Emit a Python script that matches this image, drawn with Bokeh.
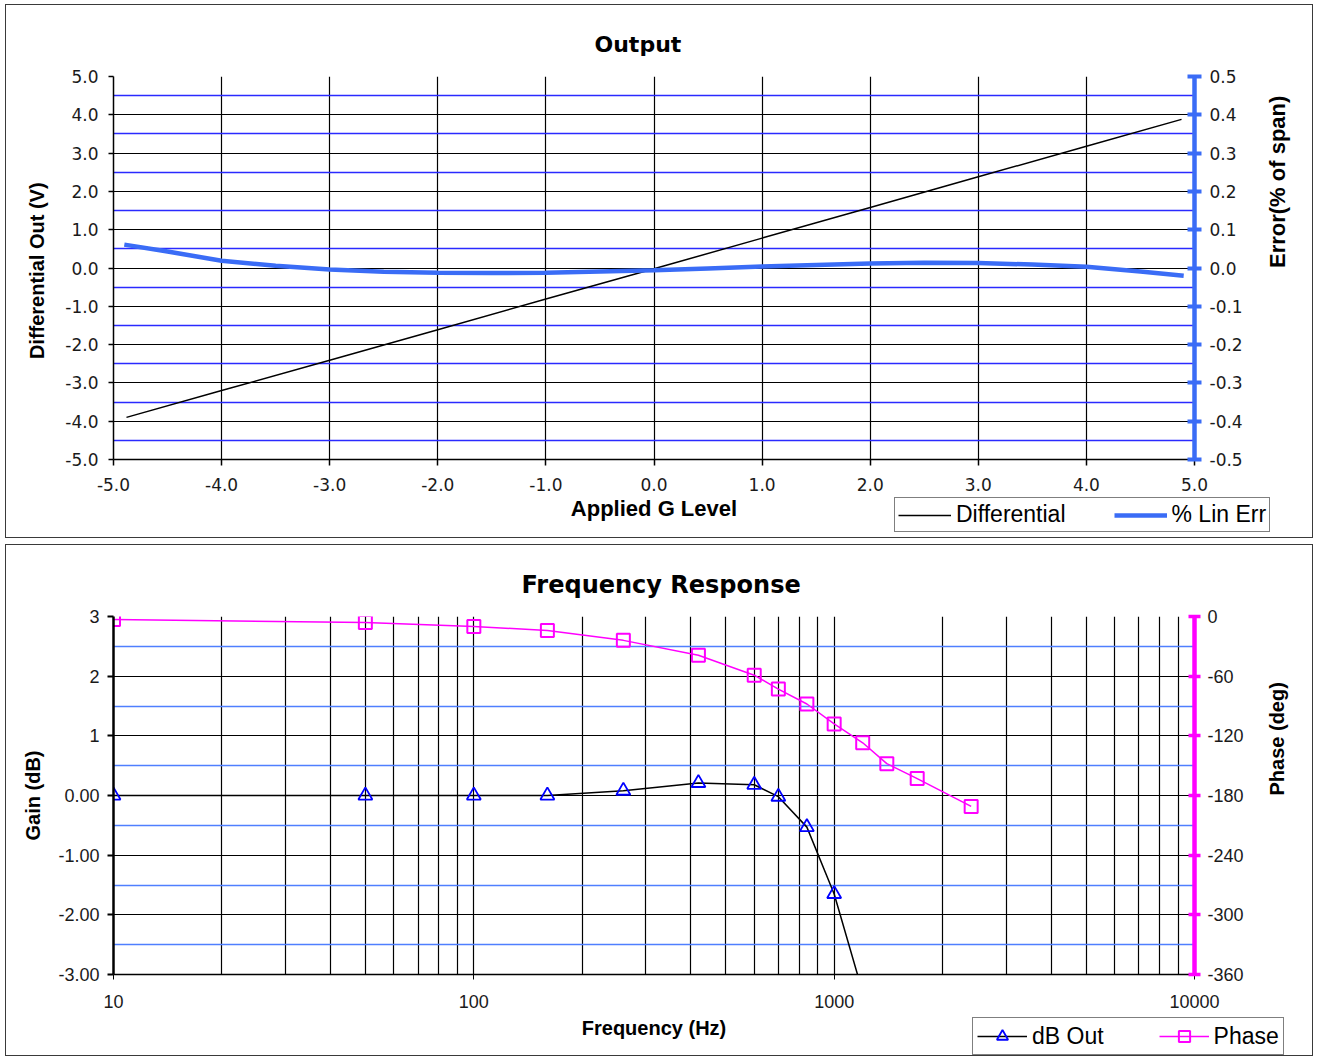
import math
from bokeh.plotting import figure
from bokeh.models import (Range1d, LinearAxis, FixedTicker, Legend, LegendItem,
                          PrintfTickFormatter)
from bokeh.layouts import column
from bokeh.embed import file_html
from bokeh.resources import INLINE

# ---------------- data: Output chart ----------------
g_level = [-4.88, -4.0, -3.0, -2.0, -1.0, 0.0, 1.0, 2.0, 3.0, 4.0, 4.88]
differential = [-3.90, -3.20, -2.41, -1.61, -0.81, -0.02, 0.78, 1.58, 2.38, 3.18, 3.88]
err_level = [-4.9, -4.5, -4.0, -3.5, -3.0, -2.5, -2.0, -1.5, -1.0, -0.5, 0.0,
             0.5, 1.0, 1.5, 2.0, 2.5, 3.0, 3.5, 4.0, 4.5, 4.9]
lin_err = [0.061, 0.043, 0.019, 0.006, -0.004, -0.010, -0.0125, -0.013, -0.0125, -0.009, -0.006,
           -0.001, 0.004, 0.008, 0.012, 0.014, 0.013, 0.009, 0.003, -0.009, -0.020]
g_ticks = [-5.0, -4.0, -3.0, -2.0, -1.0, 0.0, 1.0, 2.0, 3.0, 4.0, 5.0]
v_ticks = [-5.0, -4.0, -3.0, -2.0, -1.0, 0.0, 1.0, 2.0, 3.0, 4.0, 5.0]
v_minor = [-4.5, -3.5, -2.5, -1.5, -0.5, 0.5, 1.5, 2.5, 3.5, 4.5]
err_ticks = [-0.5, -0.4, -0.3, -0.2, -0.1, 0.0, 0.1, 0.2, 0.3, 0.4, 0.5]

# ---------------- data: Frequency Response chart ----------------
freq = [10, 50, 100, 160, 260, 420, 600, 700, 840, 1000, 1200, 1400, 1700, 2400]
db_out = [0.0, 0.0, 0.0, 0.0, 0.08, 0.21, 0.18, -0.02, -0.53, -1.65, -3.3, -5.4, -8.0, -13.0]
phase = [-3, -6, -10, -14, -24, -39, -59, -73, -88, -108, -127, -148, -163, -191]
freq_ticks = [10, 100, 1000, 10000]
freq_minor = [20, 30, 40, 50, 60, 70, 80, 90, 200, 300, 400, 500, 600, 700, 800, 900,
              2000, 3000, 4000, 5000, 6000, 7000, 8000, 9000]
gain_ticks = [-3, -2, -1, 0, 1, 2, 3]
gain_minor = [-2.5, -1.5, -0.5, 0.5, 1.5, 2.5]
gain_labels = {3: "3", 2: "2", 1: "1", 0: "0.00", -1: "-1.00", -2: "-2.00", -3: "-3.00"}
phase_ticks = [-360, -300, -240, -180, -120, -60, 0]

BLUE_GRID = "#2a2aff"
BLUE_ERR = "#3a6cf6"
BLUE_GRID2 = "#4f7fff"
MAGENTA = "#ff00ff"
TICK_FONT = "DejaVu Sans"
LAB_FONT = "Liberation Sans"


def style_axis(ax, font, size, tick_out, standoff):
    ax.major_label_text_font = font
    ax.major_label_text_font_size = size
    ax.major_label_text_color = "#1a1a1a"
    ax.major_tick_out = tick_out
    ax.major_tick_in = 0
    ax.major_label_standoff = standoff
    ax.minor_tick_line_color = None
    ax.axis_line_color = "black"
    ax.major_tick_line_color = "black"
    ax.axis_label_text_font = LAB_FONT
    ax.axis_label_text_font_style = "bold"
    ax.axis_label_text_color = "black"


def flip_right_label(ax):
    try:
        ax.axis_label_orientation = math.pi / 2
    except Exception:
        pass


def legend_figure(w, h, left, top):
    # small transparent canvas holding only a legend, laid over the chart;
    # its ranges keep the (re-used) series out of view, so only the legend shows
    f = figure(width=w, height=h, x_range=Range1d(-1000, -999), y_range=Range1d(-1000, -999),
               output_backend="svg", toolbar_location=None, min_border=0,
               x_axis_location=None, y_axis_location=None)
    f.outline_line_color = None
    f.background_fill_alpha = 0
    f.border_fill_alpha = 0
    f.grid.visible = False
    f.styles = {"position": "absolute", "left": f"{left}px", "top": f"{top}px",
                "z-index": "10"}
    return f


def style_legend(leg, pad):
    leg.label_text_font = LAB_FONT
    leg.label_text_font_size = "23px"
    leg.label_text_color = "black"
    leg.glyph_height = 20
    leg.label_standoff = 5
    leg.padding = pad
    leg.margin = 1
    leg.border_line_color = "black"
    leg.border_line_width = 1.5
    leg.background_fill_color = "white"
    leg.background_fill_alpha = 1.0


# ================= Output chart =================
p1 = figure(width=1308, height=534, x_range=Range1d(-5, 5), y_range=Range1d(-5, 5),
            output_backend="svg", toolbar_location=None,
            min_border_left=106, min_border_right=120, min_border_top=71, min_border_bottom=80)
p1.styles = {"border": "1px solid #3a3a3a"}
p1.outline_line_color = None
p1.title.text = "Output"
p1.title.text_font = "DejaVu Sans"
p1.title.text_font_style = "bold"
p1.title.text_font_size = "22px"
p1.title.text_color = "black"
p1.title.align = "left"
p1.title.offset = 481
p1.title.standoff = 39

xa = p1.xaxis[0]
xa.ticker = FixedTicker(ticks=g_ticks)
xa.formatter = PrintfTickFormatter(format="%.1f")
style_axis(xa, TICK_FONT, "17px", 6, 12)
xa.axis_line_width = 1.5
xa.major_tick_line_width = 1.5
xa.axis_label = "Applied G Level"
xa.axis_label_text_font_size = "22px"
xa.axis_label_standoff = 2

ya = p1.yaxis[0]
ya.ticker = FixedTicker(ticks=v_ticks, minor_ticks=v_minor)
ya.formatter = PrintfTickFormatter(format="%.1f")
style_axis(ya, TICK_FONT, "17px", 5, 10)
ya.axis_line_width = 1.5
ya.major_tick_line_width = 1.5
ya.axis_label = "Differential  Out (V)"
ya.axis_label_text_font_size = "20px"
ya.axis_label_standoff = 14

p1.xgrid.grid_line_color = "black"
p1.xgrid.grid_line_width = 1.2
p1.ygrid.grid_line_color = "black"
p1.ygrid.grid_line_width = 1.2
p1.ygrid.minor_grid_line_color = BLUE_GRID
p1.ygrid.minor_grid_line_width = 1.5

p1.extra_y_ranges = {"err": Range1d(-0.5, 0.5)}
ea = LinearAxis(y_range_name="err", ticker=FixedTicker(ticks=err_ticks),
                formatter=PrintfTickFormatter(format="%.1f"), axis_label="Error(% of span)")
style_axis(ea, TICK_FONT, "17px", 7, 8)
ea.major_tick_in = 7
ea.axis_line_color = BLUE_ERR
ea.axis_line_width = 4.5
ea.major_tick_line_color = BLUE_ERR
ea.major_tick_line_width = 4
ea.axis_label_text_font_size = "22px"
ea.axis_label_standoff = 32
flip_right_label(ea)
p1.add_layout(ea, "right")

p1.line(g_level, differential, line_color="black", line_width=1.5)
p1.line(err_level, lin_err, y_range_name="err", line_color=BLUE_ERR, line_width=4.5)

# legend of the Output chart (overlaid at the chart's lower right)
p3 = legend_figure(420, 42, 893, 496)
k_diff = p3.line(g_level, differential, line_color="black", line_width=1.5)
k_err = p3.line(err_level, lin_err, line_color=BLUE_ERR, line_width=4.5)
leg1 = Legend(items=[LegendItem(label="Differential", renderers=[k_diff]),
                     LegendItem(label="% Lin Err", renderers=[k_err])],
              location="top_left", orientation="horizontal")
style_legend(leg1, 3)
leg1.glyph_width = 53
leg1.spacing = 48
p3.add_layout(leg1)

# ================= Frequency Response chart =================
p2 = figure(width=1308, height=512, x_axis_type="log", x_range=Range1d(10, 10000),
            y_range=Range1d(-3, 3), output_backend="svg", toolbar_location=None,
            min_border_left=107, min_border_right=109, min_border_top=71, min_border_bottom=83)
p2.styles = {"border": "1px solid #3a3a3a"}
p2.outline_line_color = None
p2.title.text = "Frequency Response"
p2.title.text_font = "DejaVu Sans"
p2.title.text_font_style = "bold"
p2.title.text_font_size = "24px"
p2.title.text_color = "black"
p2.title.align = "left"
p2.title.offset = 408
p2.title.standoff = 35

fx = p2.xaxis[0]
fx.ticker = FixedTicker(ticks=freq_ticks, minor_ticks=freq_minor)
fx.formatter = PrintfTickFormatter(format="%d")
style_axis(fx, LAB_FONT, "18px", 5, 15)
fx.axis_line_width = 1.5
fx.axis_label = "Frequency (Hz)"
fx.axis_label_text_font_size = "20px"
fx.axis_label_standoff = 6

gy = p2.yaxis[0]
gy.ticker = FixedTicker(ticks=gain_ticks, minor_ticks=gain_minor)
gy.major_label_overrides = gain_labels
style_axis(gy, LAB_FONT, "18px", 6, 8)
gy.axis_line_width = 2.5
gy.major_tick_line_width = 2
gy.axis_label = "Gain (dB)"
gy.axis_label_text_font_size = "20px"
gy.axis_label_standoff = 11

p2.xgrid.grid_line_color = "black"
p2.xgrid.grid_line_width = 1.2
p2.xgrid.minor_grid_line_color = "black"
p2.xgrid.minor_grid_line_width = 1.2
p2.ygrid.grid_line_color = "black"
p2.ygrid.grid_line_width = 1.2
p2.ygrid.minor_grid_line_color = BLUE_GRID2
p2.ygrid.minor_grid_line_width = 1.5

p2.extra_y_ranges = {"phase": Range1d(-360, 0)}
pa = LinearAxis(y_range_name="phase", ticker=FixedTicker(ticks=phase_ticks),
                formatter=PrintfTickFormatter(format="%d"), axis_label="Phase (deg)")
style_axis(pa, LAB_FONT, "18px", 6, 7)
pa.major_tick_in = 6
pa.axis_line_color = MAGENTA
pa.axis_line_width = 4.5
pa.major_tick_line_color = MAGENTA
pa.major_tick_line_width = 3.5
pa.axis_label_text_font_size = "20px"
pa.axis_label_standoff = 30
flip_right_label(pa)
p2.add_layout(pa, "right")

p2.line(freq, db_out, line_color="black", line_width=1.5)
p2.scatter(freq, db_out, marker="triangle", size=14, line_color="#0000ff",
           line_width=1.8, fill_color=None)
p2.line(freq, phase, y_range_name="phase", line_color=MAGENTA, line_width=1.5)
p2.scatter(freq, phase, y_range_name="phase", marker="square", size=13,
           line_color=MAGENTA, line_width=2, fill_color=None)

# legend of the Frequency Response chart
p4 = legend_figure(340, 44, 971, 1016)
k_db = p4.line(freq, db_out, line_color="black", line_width=1.5)
k_dbm = p4.scatter(freq, db_out, marker="triangle", size=14, line_color="#0000ff",
                   line_width=1.8, fill_color=None)
k_ph = p4.line(freq, phase, line_color=MAGENTA, line_width=1.5)
k_phm = p4.scatter(freq, phase, marker="square", size=13, line_color=MAGENTA,
                   line_width=2, fill_color=None)
leg2 = Legend(items=[LegendItem(label="dB Out", renderers=[k_db, k_dbm]),
                     LegendItem(label="Phase", renderers=[k_ph, k_phm])],
              location="top_left", orientation="horizontal")
style_legend(leg2, 4)
leg2.glyph_height = 28
leg2.glyph_width = 50
leg2.spacing = 55
p4.add_layout(leg2)

layout = column(p1, p2, spacing=6)
layout.styles = {"margin-left": "5px", "margin-top": "4px"}
open("out.html", "w").write(file_html([layout, p3, p4], INLINE))
